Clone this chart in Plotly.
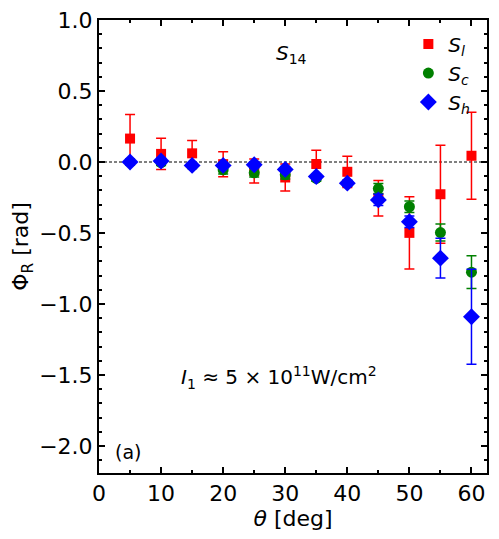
import plotly.graph_objects as go

theta = [5, 10, 15, 20, 25, 30, 35, 40, 45, 50, 55, 60]

sl = [0.165, 0.057, 0.061, -0.015, -0.063, -0.109, -0.014, -0.069, -0.255, -0.499, -0.227, 0.044]
sl_err = [0.17, 0.11, 0.09, 0.088, 0.084, 0.095, 0.096, 0.11, 0.125, 0.255, 0.345, 0.306]

sc = [0.0, -0.005, -0.025, -0.055, -0.076, -0.09, -0.116, -0.149, -0.187, -0.315, -0.497, -0.776]
sc_err = [0.02, 0.02, 0.02, 0.03, 0.03, 0.03, 0.02, 0.02, 0.035, 0.04, 0.06, 0.115]

sh = [0.0, 0.007, -0.024, -0.024, -0.019, -0.052, -0.102, -0.149, -0.267, -0.421, -0.677, -1.09]
sh_err = [0.02, 0.02, 0.015, 0.02, 0.02, 0.02, 0.015, 0.02, 0.04, 0.04, 0.14, 0.335]

FONT = "DejaVu Sans"

fig = go.Figure()

def add(y, err, color, symbol, size, name):
    fig.add_trace(go.Scatter(
        x=theta, y=y, mode="markers", name=name,
        marker=dict(color=color, symbol=symbol, size=size, line=dict(width=0)),
        error_y=dict(type="data", array=err, visible=True, color=color, thickness=1.5, width=5),
    ))

add(sl, sl_err, "#ff0000", "square", 10, "<i>S<sub>l</sub></i>")
add(sc, sc_err, "#008000", "circle", 11, "<i>S<sub>c</sub></i>")
add(sh, sh_err, "#0000ff", "diamond", 13, "<i>S<sub>h</sub></i>")

fig.add_hline(y=0, line=dict(color="black", width=1, dash="3px,2px"), layer="below")

fig.add_annotation(x=31, y=0.76, text="<i>S</i><sub>14</sub>", showarrow=False,
                   font=dict(size=20, family=FONT, color="black"))
fig.add_annotation(x=29, y=-1.52, text="<i>I</i><sub>1</sub> ≈ 5 × 10<sup>11</sup>W/cm<sup>2</sup>",
                   showarrow=False, font=dict(size=20, family=FONT, color="black"))
fig.add_annotation(x=4.6, y=-2.04, text="(a)", showarrow=False,
                   font=dict(size=19, family=FONT, color="black"))

axis_common = dict(
    showline=True, linecolor="black", linewidth=2, mirror="allticks",
    ticks="inside", ticklen=6, tickwidth=2, tickcolor="black",
    showgrid=False, zeroline=False,
    tickfont=dict(size=22, family=FONT, color="black"),
)

fig.update_xaxes(range=[0, 62.5], dtick=10, tick0=0,
                 title=dict(text="<i>θ</i> [deg]", font=dict(size=22, family=FONT, color="black"), standoff=0),
                 minor=dict(ticks="inside", ticklen=3, tickwidth=1.5, dtick=5, tickcolor="black"),
                 **axis_common)
fig.update_yaxes(range=[-2.19, 1.0], dtick=0.5, tick0=0, tickformat=".1f",
                 title=dict(text="Φ<sub>R</sub> [rad]", font=dict(size=22, family=FONT, color="black"), standoff=4),
                 minor=dict(ticks="inside", ticklen=3, tickwidth=1.5, dtick=0.1, tickcolor="black"),
                 **axis_common)

fig.update_layout(
    width=499, height=539,
    margin=dict(l=99, r=12, t=20, b=66, autoexpand=False),
    plot_bgcolor="white", paper_bgcolor="white",
    font=dict(family=FONT, color="black"),
    legend=dict(x=0.97, y=0.99, xanchor="right", yanchor="top",
                font=dict(size=20, family=FONT), bgcolor="rgba(0,0,0,0)",
                itemwidth=30, tracegroupgap=0),
)

fig.write_html("out.html", config={"displayModeBar": False},
               post_script="document.body.style.margin='0';")
